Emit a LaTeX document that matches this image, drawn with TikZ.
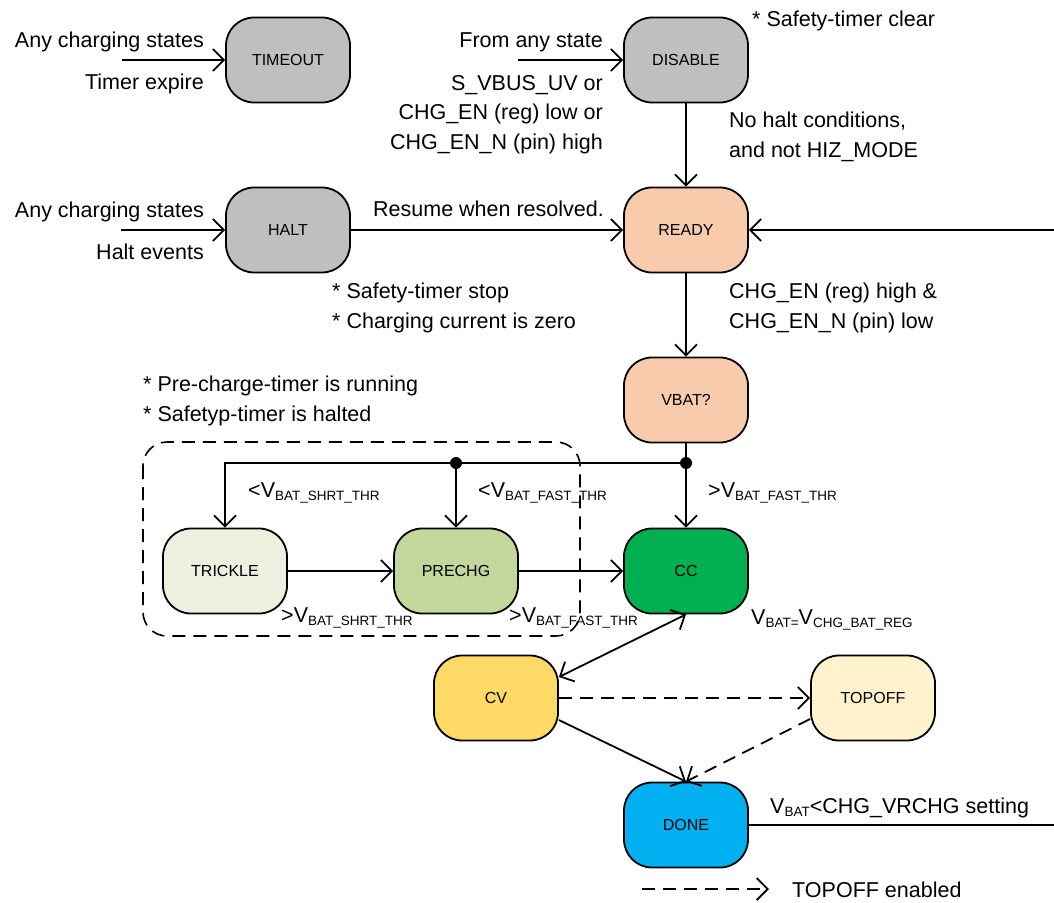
\documentclass[tikz,border=0pt]{standalone}
\usepackage{fontspec}
\setmainfont{Liberation Sans}
\usetikzlibrary{arrows.meta}

\definecolor{haltgray}{HTML}{BFBFBF}
\definecolor{readyorange}{HTML}{F8CBAD}
\definecolor{tricklegreen}{HTML}{EBF1DE}
\definecolor{prechggreen}{HTML}{C3D69B}
\definecolor{ccgreen}{HTML}{00B050}
\definecolor{cvyellow}{HTML}{FFD966}
\definecolor{topoffyellow}{HTML}{FFF2CC}
\definecolor{doneblue}{HTML}{00B0F0}

\newcommand{\lowtext}[1]{\raisebox{-3pt}{\fontsize{13.5}{14}\selectfont #1}}

\tikzset{
  state/.style={draw=black, line width=1.8pt, rounded corners=28pt,
    minimum width=124pt, minimum height=85pt, inner sep=0pt,
    font=\fontsize{16}{19}\selectfont},
  note/.style={inner sep=0pt, font=\fontsize{21.5}{29.5}\selectfont},
  flow/.style={line width=1.8pt, ->},
  topoff/.style={flow, dash pattern=on 13pt off 8pt},
  junction/.style={circle, fill=black, minimum size=12pt, inner sep=0pt},
  >={Straight Barb[length=11pt,width=22pt]}
}

\begin{document}
\begin{tikzpicture}[x=10pt,y=10pt]
\useasboundingbox (0,0) rectangle (105.4,-90.2);
% states
\node[state, fill=haltgray] (TIMEOUT) at (28.8,-6.0) {TIMEOUT};
\node[state, fill=haltgray] (DISABLE) at (68.6,-6.0) {DISABLE};
\node[state, fill=haltgray] (HALT) at (28.8,-23.0) {HALT};
\node[state, fill=readyorange] (READY) at (68.6,-23.0) {READY};
\node[state, fill=readyorange] (VBAT) at (68.6,-40.0) {VBAT?};
\node[state, fill=tricklegreen] (TRICKLE) at (22.5,-57.1) {TRICKLE};
\node[state, fill=prechggreen] (PRECHG) at (45.6,-57.1) {PRECHG};
\node[state, fill=ccgreen] (CC) at (68.6,-57.1) {CC};
\node[state, fill=cvyellow] (CV) at (49.6,-69.8) {CV};
\node[state, fill=topoffyellow] (TOPOFF) at (87.3,-69.8) {TOPOFF};
\node[state, fill=doneblue] (DONE) at (68.6,-82.5) {DONE};
% pre-charge group
\draw[line width=1.6pt, dash pattern=on 13pt off 8pt, rounded corners=24pt] (14.3,-44.2) rectangle (58.0,-63.6);
% free ends and junctions
\coordinate (timeoutIn) at (12.2,-6.0);
\coordinate (disableIn) at (51.8,-6.0);
\coordinate (haltIn) at (12.1,-23.0);
\coordinate (loopTop) at (105.4,-23.0);
\coordinate (loopBot) at (105.4,-82.5);
\coordinate (legA) at (64.2,-88.9);
\coordinate (legB) at (76.9,-88.9);
\node[junction] (forkCC) at (68.6,-46.3) {};
\node[junction] (forkPRE) at (45.6,-46.3) {};
% transitions
\draw[flow] (timeoutIn) -- (TIMEOUT.west);
\draw[flow] (disableIn) -- (DISABLE.west);
\draw[flow] (haltIn) -- (HALT.west);
\draw[flow] (DISABLE.south) -- (READY.north);
\draw[flow] (HALT.east) -- (READY.west);
\draw[flow] (loopTop) -- (READY.east);
\draw[flow] (READY.south) -- (VBAT.north);
\draw[flow] (VBAT.south) -- (CC.north);
\draw[flow] (forkCC.center) -| (TRICKLE.north);
\draw[flow] (forkPRE.center) -- (PRECHG.north);
\draw[flow] (TRICKLE.east) -- (PRECHG.west);
\draw[flow] (PRECHG.east) -- (CC.west);
\draw[flow, <->] (CC.south) -- ([yshift=21pt]CV.east);
\draw[flow] ([yshift=-22pt]CV.east) -- (DONE.north);
\draw[topoff] (CV.east) -- (TOPOFF.west);
\draw[topoff] ([yshift=-21pt]TOPOFF.west) -- (DONE.north);
\draw[line width=1.8pt] (DONE.east) -- (loopBot);
\draw[topoff] (legA) -- (legB);
% labels
\node[note, anchor=base east] (anyTimeout) at (20.4,-4.7) {Any charging states};
\node[note, anchor=base east] (expire) at (20.4,-8.9) {Timer expire};
\node[note, anchor=base east] (fromAny) at (60.3,-4.7) {From any state};
\node[note, anchor=base east, align=right] (disableCond) at (60.3,-14.9) {S\_VBUS\_UV or\\CHG\_EN (reg) low or\\CHG\_EN\_N (pin) high};
\node[note, anchor=base west] (timerClear) at (75.2,-2.6) {* Safety-timer clear};
\node[note, anchor=base west, align=left] (noHalt) at (72.9,-15.7) {No halt conditions,\\and not HIZ\_MODE};
\node[note, anchor=base east] (anyHalt) at (20.4,-21.7) {Any charging states};
\node[note, anchor=base east] (haltEvents) at (20.4,-25.9) {Halt events};
\node[note, anchor=base west] (resume) at (37.3,-21.6) {Resume when resolved.};
\node[note, anchor=base west, align=left] (haltNote) at (33.2,-32.8) {* Safety-timer stop\\* Charging current is zero};
\node[note, anchor=base west, align=left] (enableCond) at (72.9,-32.8) {CHG\_EN (reg) high \&\\CHG\_EN\_N (pin) low};
\node[note, anchor=base west, align=left] (preNote) at (14.3,-42.1) {* Pre-charge-timer is running\\* Safetyp-timer is halted};
\node[note, anchor=base west] (ltShrt) at (24.8,-49.7) {<V\lowtext{BAT\_SHRT\_THR}};
\node[note, anchor=base west] (ltFast) at (47.8,-49.7) {<V\lowtext{BAT\_FAST\_THR}};
\node[note, anchor=base west] (gtFastCC) at (70.8,-49.7) {>V\lowtext{BAT\_FAST\_THR}};
\node[note, anchor=base west] (gtShrt) at (28.1,-62.2) {>V\lowtext{BAT\_SHRT\_THR}};
\node[note, anchor=base west] (gtFast) at (50.9,-62.2) {>V\lowtext{BAT\_FAST\_THR}};
\node[note, anchor=base west] (cvCond) at (75.1,-62.4) {V\lowtext{BAT=}V\lowtext{CHG\_BAT\_REG}};
\node[note, anchor=base west] (rechg) at (77.0,-81.3) {V\lowtext{BAT}<CHG\_VRCHG setting};
\node[note, anchor=base west] (legend) at (79.2,-89.7) {TOPOFF enabled};
\end{tikzpicture}
\end{document}
